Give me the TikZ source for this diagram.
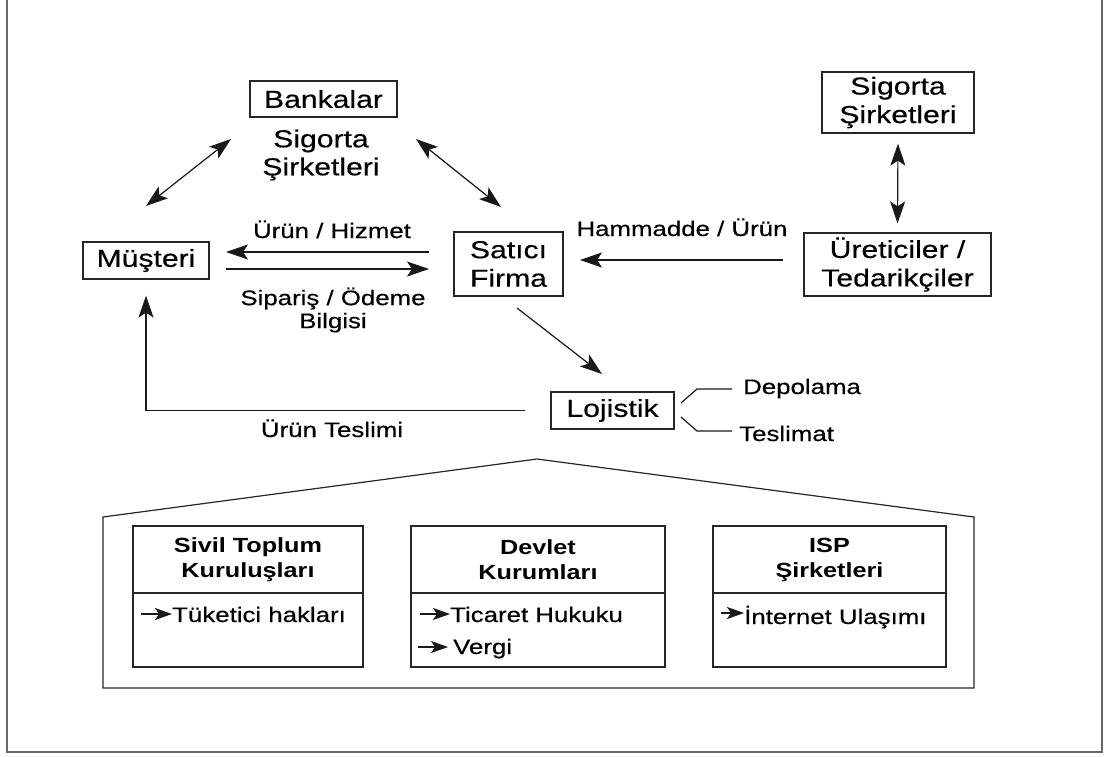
\documentclass[tikz,border=0pt]{standalone}
\usepackage{fontspec}
\setmainfont{Liberation Sans}[FakeStretch=1.23, UprightFeatures={FakeBold=0.4}]
\usetikzlibrary{arrows.meta}
\begin{document}
\begin{tikzpicture}[x=1pt,y=-1pt,
  box/.style={draw=black!85, line width=1.2pt, inner sep=0pt, align=center,
    font=\fontsize{24.5}{28.5}\selectfont},
  lbl/.style={align=center, inner sep=0pt, font=\fontsize{21}{23}\selectfont},
  ttl/.style={align=center, inner sep=0pt, font=\fontsize{20.5}{25}\selectfont\bfseries},
  item/.style={anchor=base west, inner sep=0pt, font=\fontsize{21}{25}\selectfont},
  panel/.style={draw=black!85, line width=1.2pt, inner sep=0pt, minimum height=141pt},
  conn/.style={line width=1.2pt, black!90},
  arrowto/.style={conn, -{Stealth[length=22pt,width=15pt,inset=5pt]}},
  arrowboth/.style={conn, {Stealth[length=22pt,width=15pt,inset=5pt]}-{Stealth[length=22pt,width=15pt,inset=5pt]}},
  bullet/.style={conn, line width=1.6pt, -{Stealth[length=17pt,width=12pt,inset=4pt]}},
  ]
\useasboundingbox (0,0) rectangle (1112,756);

% page frame
\draw[black!60, line width=1.2pt] (7,0) -- (7,752) -- (1102,752) -- (1102,0);

% main actors
\node[box, minimum width=147pt, minimum height=36pt] (bank) at (323.5,99) {Bankalar};
\node[lbl, font=\fontsize{24.5}{28}\selectfont] (sigorta) at (321,155) {Sigorta\\Şirketleri};
\node[box, minimum width=126pt, minimum height=37pt] (mus) at (146,260.5) {Müşteri};
\node[box, minimum width=109pt, minimum height=64pt] (sat) at (508.5,264) {Satıcı\\Firma};
\node[box, minimum width=187pt, minimum height=63pt] (ure) at (897.5,264.5) {Üreticiler /\\Tedarikçiler};
\node[box, minimum width=152pt, minimum height=61pt] (sig2) at (898,102.5) {Sigorta\\Şirketleri};
\node[box, minimum width=123pt, minimum height=37pt] (loj) at (612.5,410.5) {Lojistik};

% flow labels
\node[lbl, anchor=base] (lhiz) at (332,238) {Ürün / Hizmet};
\node[lbl] (lsip) at (333,310) {Sipariş / Ödeme\\Bilgisi};
\node[lbl, anchor=base] (lham) at (682,236) {Hammadde / Ürün};
\node[lbl, anchor=base] (ltes) at (332,437) {Ürün Teslimi};
\node[lbl, anchor=base west] (ldep) at (743,394) {Depolama};
\node[lbl, anchor=base west] (ltsl) at (739,441) {Teslimat};

% connector end points
\coordinate (mb1) at (146,206);  \coordinate (mb2) at (231,139);
\coordinate (bs1) at (416,139);  \coordinate (bs2) at (501,207);
\coordinate (sm1) at (429,252);  \coordinate (sm2) at (226,252);
\coordinate (ms1) at (226,269);  \coordinate (ms2) at (429,269);
\coordinate (us1) at (783,260);  \coordinate (us2) at (580,260);
\coordinate (sl1) at (517,308);  \coordinate (sl2) at (602,374);
\coordinate (d0) at (681,403);   \coordinate (d1) at (697,389);  \coordinate (d2) at (732,389);
\coordinate (t0) at (681,417);   \coordinate (t1) at (697,431);  \coordinate (t2) at (732,431);

\draw[arrowboth] (mb1) -- (mb2);
\draw[arrowboth] (bs1) -- (bs2);
\draw[arrowto] (sm1) -- (sm2);
\draw[arrowto] (ms1) -- (ms2);
\draw[arrowto] (us1) -- (us2);
\draw[arrowto] (sl1) -- (sl2);
\draw[arrowboth] ([yshift=-10pt]sig2.south) -- ([yshift=9pt]ure.north);
\draw[arrowto] ([xshift=-25pt]loj.west) -| ([yshift=-16pt]mus.south);
\draw[conn] (d0) -- (d1) -- (d2);
\draw[conn] (t0) -- (t1) -- (t2);

% environment (house outline)
\draw[conn, black!85] (103,688) -- (103,517) -- (537,459) -- (974,517) -- (974,688) -- cycle;

\node[panel, minimum width=230pt] (stk) at (248,596.5) {};
\node[panel, minimum width=254pt] (dev) at (538,596.5) {};
\node[panel, minimum width=233pt] (isp) at (829.5,596.5) {};
\draw[conn, black!85] (stk.west |- 0,593) -- (stk.east |- 0,593);
\draw[conn, black!85] (dev.west |- 0,593) -- (dev.east |- 0,593);
\draw[conn, black!85] (isp.west |- 0,593) -- (isp.east |- 0,593);

\node[ttl] (stkt) at (248,560) {Sivil Toplum\\Kuruluşları};
\node[ttl] (devt) at (538,560) {Devlet\\Kurumları};
\node[ttl] (ispt) at (829.5,560) {ISP\\Şirketleri};

\node[item] (i1) at (172,622) {Tüketici hakları};
\node[item] (i2) at (450,622) {Ticaret Hukuku};
\node[item] (i3) at (453,654) {Vergi};
\node[item] (i4) at (744,624) {İnternet Ulaşımı};

\draw[bullet] (141,614) -- (i1.west |- 0,614);
\draw[bullet] (420,614) -- (i2.west |- 0,614);
\draw[bullet] (418,647) -- ([xshift=-5pt]i3.west |- 0,647);
\draw[bullet] (721,613) -- (i4.west |- 0,613);
\end{tikzpicture}
\end{document}
